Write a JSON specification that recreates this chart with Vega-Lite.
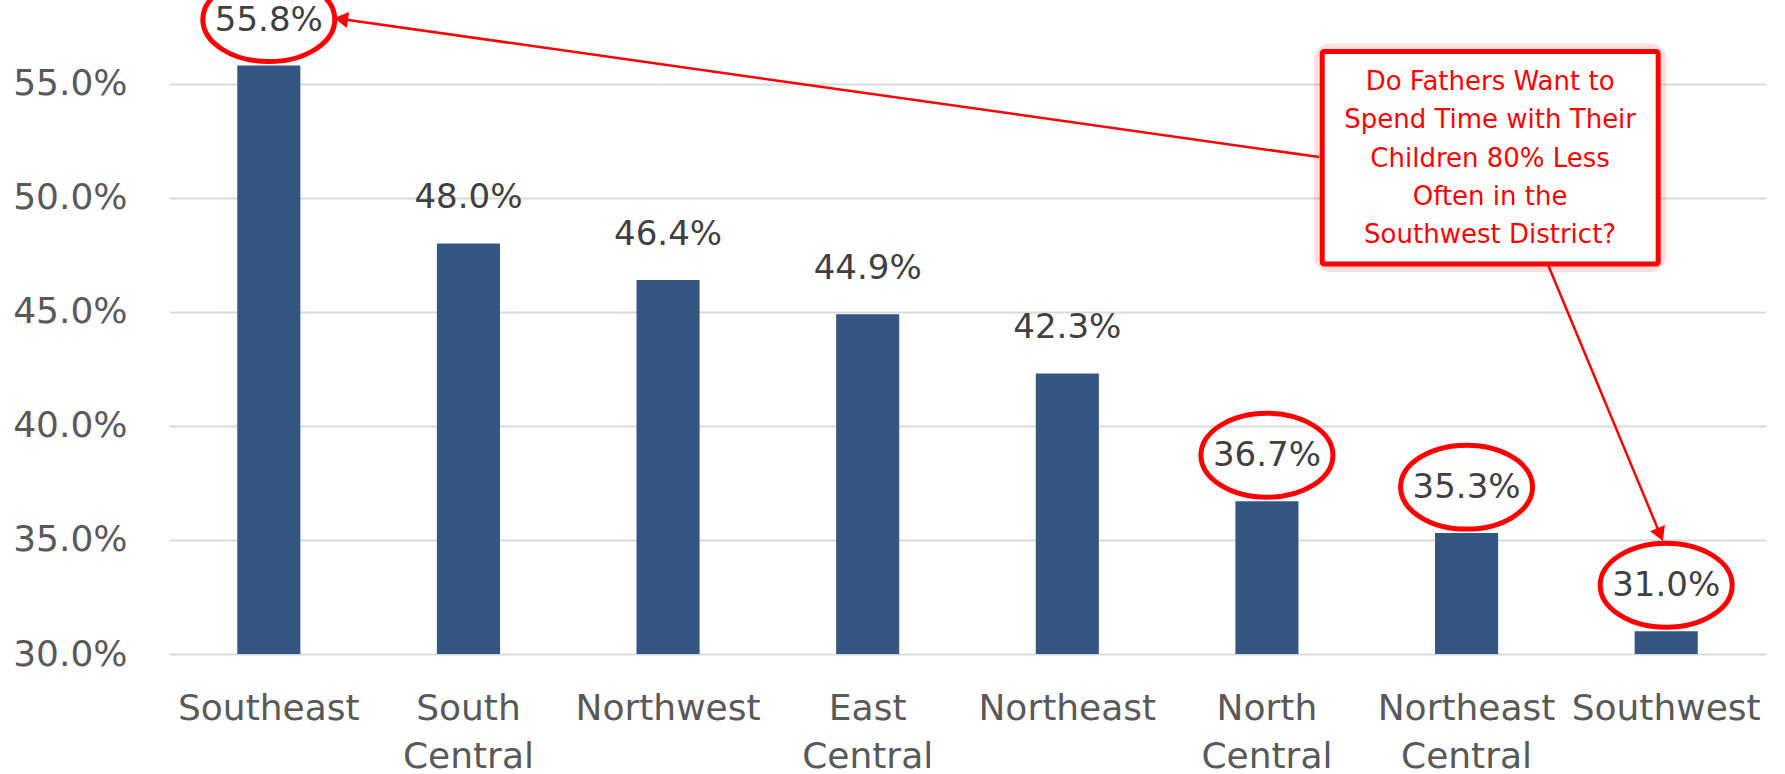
{
  "$schema": "https://vega.github.io/schema/vega-lite/v6.json",
  "width": 1597,
  "height": 650,
  "autosize": {"type": "none"},
  "padding": {"left": 169, "top": 4, "right": 19, "bottom": 120},
  "background": "white",
  "config": {"view": {"stroke": null}, "font": "DejaVu Sans"},
  "datasets": {
    "bars": [
      {"region": "Southeast", "value": 0.558},
      {"region": "South Central", "value": 0.480},
      {"region": "Northwest", "value": 0.464},
      {"region": "East Central", "value": 0.449},
      {"region": "Northeast", "value": 0.423},
      {"region": "North Central", "value": 0.367},
      {"region": "Northeast Central", "value": 0.353},
      {"region": "Southwest", "value": 0.310}
    ],
    "box": [{"x1": 5.777, "x2": 7.46, "y1": 0.56417, "y2": 0.4710}],
    "arrows": [
      {"x1": 5.761, "y1": 0.5179, "x2": 0.862, "y2": 0.5784},
      {"x1": 6.894, "y1": 0.4736, "x2": 7.47, "y2": 0.3524}
    ],
    "head1": [{"x": 0.862, "y": 0.5784}],
    "head2": [{"x": 7.47, "y": 0.3524}],
    "note": [{"x": 6.618, "y": 0.5508, "lines": ["Do Fathers Want to", "Spend Time with Their", "Children 80% Less", "Often in the", "Southwest District?"]}]
  },
  "layer": [
    {
      "data": {"name": "bars"},
      "encoding": {
        "x": {
          "field": "region", "type": "nominal", "sort": null,
          "scale": {"paddingInner": 0.684, "paddingOuter": 0.342},
          "axis": {
            "title": null, "labelAngle": 0, "labelFontSize": 36, "labelColor": "#595959",
            "labelFont": "DejaVu Sans", "labelPadding": 37, "ticks": false, "tickSize": 0,
            "domain": false, "grid": false, "labelExpr": "split(datum.label, ' ')",
            "labelLineHeight": 48, "labelBaseline": "top", "labelOverlap": false, "labelLimit": 400, "labelBound": false
          }
        },
        "y": {
          "field": "value", "type": "quantitative",
          "scale": {"domain": [0.3, 0.585], "nice": false, "zero": false},
          "axis": {
            "title": null, "values": [0.30, 0.35, 0.40, 0.45, 0.50, 0.55], "format": ".1%",
            "labelFontSize": 36, "labelColor": "#595959", "labelFont": "DejaVu Sans",
            "labelPadding": 42, "ticks": false, "tickSize": 0, "domain": false,
            "grid": true, "gridColor": "#d9d9d9", "gridWidth": 2
          }
        }
      },
      "layer": [
        {"mark": {"type": "bar", "color": "#355683"}, "encoding": {"y2": {"datum": 0.3}}},
        {
          "mark": {"type": "text", "baseline": "middle", "align": "center", "dy": -45, "fontSize": 34, "color": "#404040", "font": "DejaVu Sans"},
          "encoding": {"text": {"field": "value", "type": "quantitative", "format": ".1%"}}
        },
        {
          "transform": [{"filter": {"field": "region", "oneOf": ["Southeast", "North Central", "Northeast Central", "Southwest"]}}],
          "mark": {"type": "point", "shape": "M-1,0A1,0.636,0,1,0,1,0A1,0.636,0,1,0,-1,0Z", "filled": false, "stroke": "#ff0000", "strokeWidth": 5, "size": 17424, "yOffset": -46, "opacity": 1}
        }
      ]
    },
    {
      "layer": [
        {
          "data": {"name": "box"},
          "mark": {"type": "rect", "fill": null, "stroke": "#ff0000", "strokeOpacity": 0.13, "strokeWidth": 16, "cornerRadius": 8},
          "encoding": {
            "x": {"field": "x1", "type": "quantitative", "scale": {"domain": [0, 8], "nice": false, "zero": false}, "axis": null},
            "x2": {"field": "x2"},
            "y": {"field": "y1", "type": "quantitative", "scale": {"domain": [0.3, 0.585], "nice": false, "zero": false}, "axis": null},
            "y2": {"field": "y2"}
          }
        },
        {
          "data": {"name": "arrows"},
          "mark": {"type": "rule", "color": "#ff0000", "strokeWidth": 2.5},
          "encoding": {
            "x": {"field": "x1", "type": "quantitative", "scale": {"domain": [0, 8], "nice": false, "zero": false}, "axis": null},
            "x2": {"field": "x2"},
            "y": {"field": "y1", "type": "quantitative", "scale": {"domain": [0.3, 0.585], "nice": false, "zero": false}, "axis": null},
            "y2": {"field": "y2"}
          }
        },
        {
          "data": {"name": "box"},
          "mark": {"type": "rect", "fill": "white", "stroke": "#ff0000", "strokeWidth": 5, "cornerRadius": 2},
          "encoding": {
            "x": {"field": "x1", "type": "quantitative", "scale": {"domain": [0, 8], "nice": false, "zero": false}, "axis": null},
            "x2": {"field": "x2"},
            "y": {"field": "y1", "type": "quantitative", "scale": {"domain": [0.3, 0.585], "nice": false, "zero": false}, "axis": null},
            "y2": {"field": "y2"}
          }
        },
        {
          "data": {"name": "head1"},
          "mark": {"type": "point", "shape": "triangle-up", "filled": true, "color": "#ff0000", "size": 256, "angle": 278, "opacity": 1},
          "encoding": {
            "x": {"field": "x", "type": "quantitative", "scale": {"domain": [0, 8], "nice": false, "zero": false}, "axis": null},
            "y": {"field": "y", "type": "quantitative", "scale": {"domain": [0.3, 0.585], "nice": false, "zero": false}, "axis": null}
          }
        },
        {
          "data": {"name": "head2"},
          "mark": {"type": "point", "shape": "triangle-up", "filled": true, "color": "#ff0000", "size": 256, "angle": 157.4, "opacity": 1},
          "encoding": {
            "x": {"field": "x", "type": "quantitative", "scale": {"domain": [0, 8], "nice": false, "zero": false}, "axis": null},
            "y": {"field": "y", "type": "quantitative", "scale": {"domain": [0.3, 0.585], "nice": false, "zero": false}, "axis": null}
          }
        },
        {
          "data": {"name": "note"},
          "mark": {"type": "text", "align": "center", "baseline": "middle", "fontSize": 26, "lineHeight": 38.3, "color": "#ff0000", "font": "DejaVu Sans"},
          "encoding": {
            "x": {"field": "x", "type": "quantitative", "scale": {"domain": [0, 8], "nice": false, "zero": false}, "axis": null},
            "y": {"field": "y", "type": "quantitative", "scale": {"domain": [0.3, 0.585], "nice": false, "zero": false}, "axis": null},
            "text": {"field": "lines"}
          }
        }
      ]
    }
  ],
  "resolve": {"scale": {"x": "independent", "y": "independent"}}
}
